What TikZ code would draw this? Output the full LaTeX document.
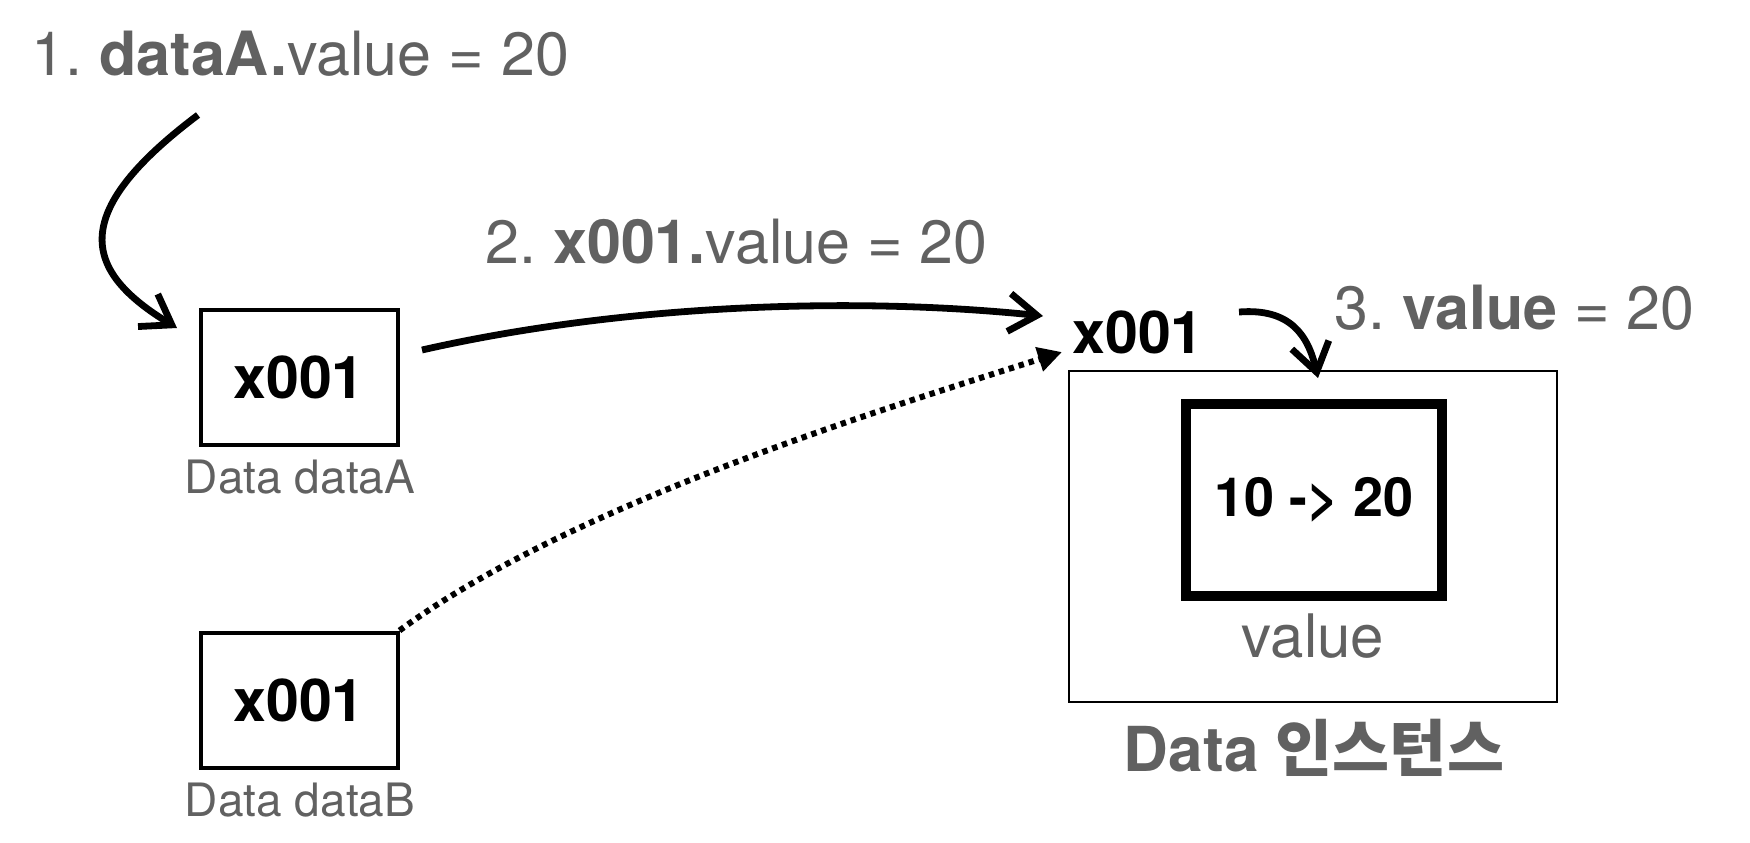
\documentclass[tikz,border=0pt]{standalone}
\usepackage{fontspec}
\setmainfont{TeX Gyre Heros}
\newfontfamily\krfont{Noto Sans CJK KR}
\usetikzlibrary{arrows.meta}
\definecolor{txtgray}{RGB}{97,97,97}
\frenchspacing
\begin{document}
\begin{tikzpicture}[x=0.5pt,y=-0.5pt,
  lbl/.style={inner sep=0, anchor=base west, text=txtgray, font=\fontsize{30.5pt}{36pt}\selectfont},
  varbox/.style={draw, line width=2pt, minimum width=98.5pt, minimum height=67.5pt, inner sep=0, font=\fontsize{29.5pt}{35pt}\selectfont\bfseries},
  caption/.style={inner sep=0, anchor=base, text=txtgray, font=\fontsize{23pt}{28pt}\selectfont},
  bigarrow/.style={line width=3.4pt, -{Straight Barb[length=14pt,width=19pt]}},
  dotarrow/.style={line width=3pt, dash pattern=on 2.7pt off 2.5pt, -{Triangle[length=12pt,width=12pt]}},
  outerbox/.style={draw, line width=0.9pt, minimum width=244pt, minimum height=165.5pt, inner sep=0},
  innerbox/.style={draw, line width=4.8pt, minimum width=127.75pt, minimum height=96pt, inner sep=0, font=\fontsize{27pt}{32pt}\selectfont\bfseries}
]
\useasboundingbox (0,0) rectangle (1750,842);

% labels
\node[lbl] (l1) at (31,75) {1. \textbf{dataA.}value = 20};
\node[lbl] (l2) at (485,263) {2. \textbf{x001.}value = 20};
\node[lbl] (l3) at (1334,329) {3. \textbf{value} = 20};

% variable boxes
\node[varbox] (boxA) at (299,377) {x001};
\node[caption] (capA) at (300,493) {Data dataA};
\node[varbox] (boxB) at (299,700) {x001};
\node[caption] (capB) at (300,816) {Data dataB};

% instance
\node[outerbox] (inst) at (1313,536.5) {};
\node[innerbox] (val) at (1314,500) {10 -> 20};
\node[inner sep=0, anchor=base, text=txtgray, font=\fontsize{30pt}{36pt}\selectfont] (valcap) at (1313,657) {value};
\node[inner sep=0, anchor=base, text=txtgray, font=\fontsize{31pt}{37pt}\selectfont\bfseries] (instcap) at (1314,771) {Data {\krfont\bfseries 인스턴스}};
\node[inner sep=0, anchor=base west, font=\fontsize{29.5pt}{35pt}\selectfont\bfseries] (addr) at (1072,353) {x001};

% connector end points
\coordinate (a1s) at (198,115);
\coordinate (a1e) at (177,328);
\coordinate (a2s) at (422,350);
\coordinate (a2e) at (1043,316);
\coordinate (a4e) at (1062,352);
\coordinate (a3s) at (1239,312);
\coordinate (a3e) at (1318,378);

% connectors
\draw[bigarrow] (a1s) .. controls (65,215) and (85,272) .. (a1e);
\draw[bigarrow] (a2s) .. controls (620,305) and (850,296) .. (a2e);
\draw[dotarrow] (boxB.north east) .. controls (570,505) and (880,410) .. (a4e);
\draw[bigarrow] (a3s) .. controls (1290,308) and (1308,335) .. (a3e);
\end{tikzpicture}
\end{document}
